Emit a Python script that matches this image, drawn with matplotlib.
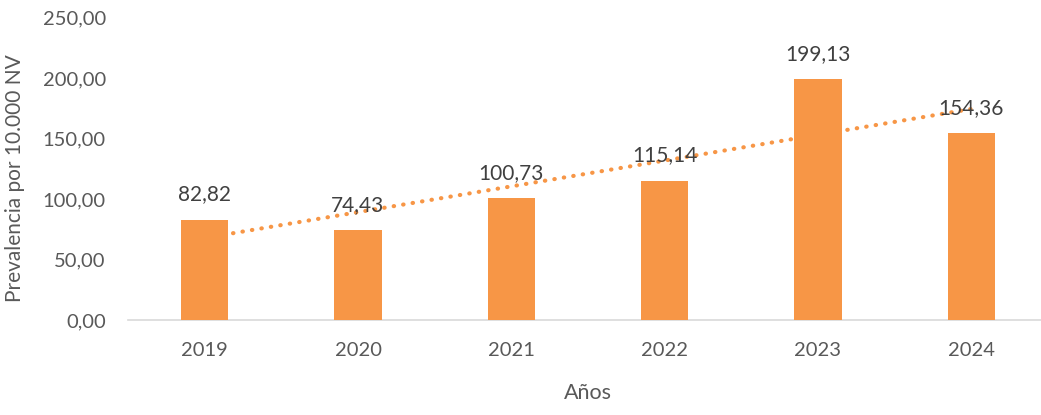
import matplotlib.pyplot as plt
import numpy as np

years = ['2019', '2020', '2021', '2022', '2023', '2024']
prevalence = [82.82, 74.43, 100.73, 115.14, 199.13, 154.36]
yticks = [0, 50, 100, 150, 200, 250]

orange = '#F79646'
plt.rcParams['font.family'] = ['Lato', 'DejaVu Sans']

fig = plt.figure(figsize=(10.41, 4.15), dpi=100)
ax = fig.add_axes([128 / 1041, 95 / 415, 920 / 1041, 302.5 / 415])

x = np.arange(len(years))
ax.bar(x, prevalence, width=0.31, color=orange, zorder=3)

# linear trendline (behind bars)
coef = np.polyfit(x, prevalence, 1)
ax.plot(x, np.polyval(coef, x), color=orange, linestyle=(0, (0.1, 2.2)),
        linewidth=3, dash_capstyle='round', zorder=2)

for xi, v in zip(x, prevalence):
    ax.annotate(f'{v:.2f}'.replace('.', ','), (xi, v), xytext=(0, 11),
                textcoords='offset points', ha='center', va='bottom',
                fontsize=15, color='#404040', zorder=4)

ax.set_xlim(-0.5, len(years) - 0.5)
ax.set_ylim(0, 250)
ax.set_xticks(x)
ax.set_xticklabels(years)
ax.set_yticks(yticks)
ax.set_yticklabels([f'{t:.2f}'.replace('.', ',') for t in yticks])
ax.tick_params(axis='both', length=0, labelsize=14.5, labelcolor='#595959')
ax.tick_params(axis='x', pad=16)
ax.tick_params(axis='y', pad=16)

for s in ['top', 'right', 'left']:
    ax.spines[s].set_visible(False)
ax.spines['bottom'].set_color('#d9d9d9')
ax.spines['bottom'].set_linewidth(1.2)

ax.set_xlabel('Años', fontsize=15.5, color='#595959', labelpad=17)
ax.set_ylabel('Prevalencia por 10.000 NV', fontsize=15, color='#595959')
ax.yaxis.set_label_coords(-103 / 920, 0.47)

fig.savefig('out.png', dpi=100)
